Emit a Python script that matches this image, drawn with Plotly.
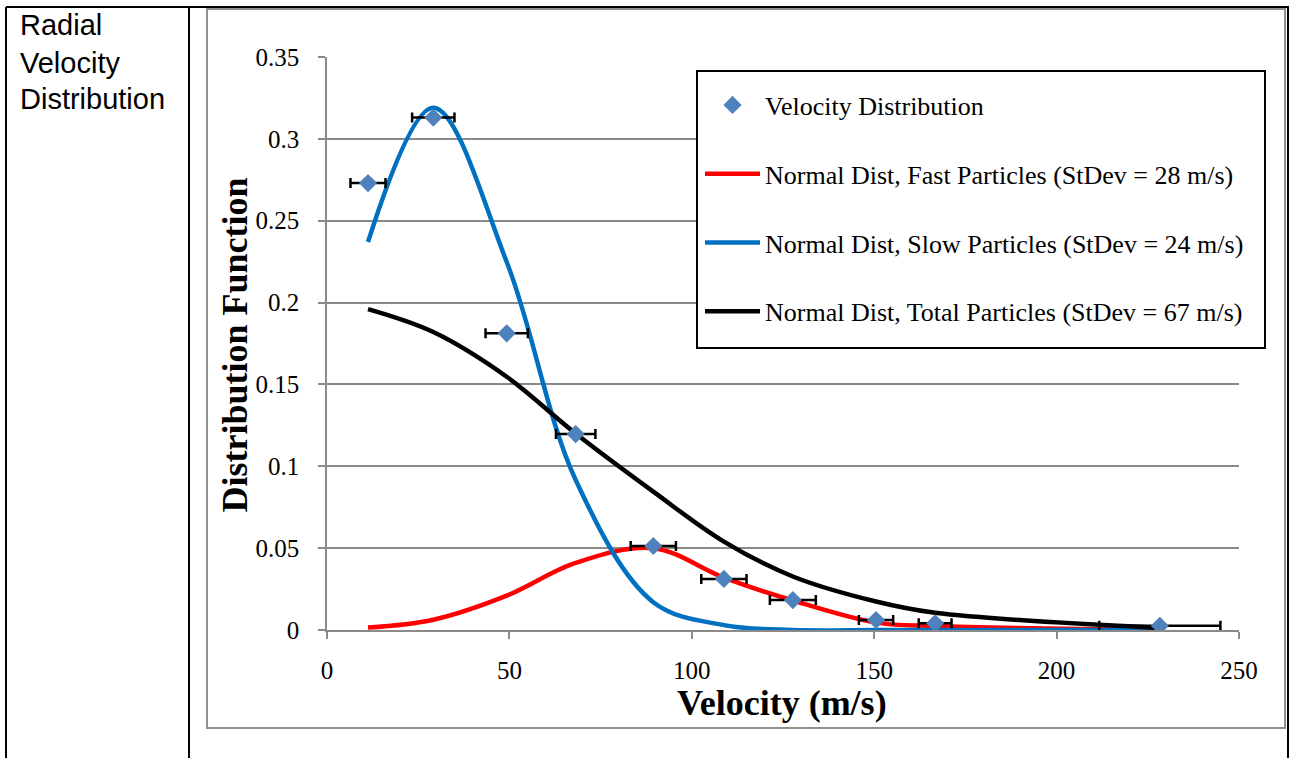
import plotly.graph_objects as go

# Measured radial velocity distribution
velocity = [11.24, 29.14, 49.26, 68.17, 89.45, 108.8, 127.7, 150.5, 166.7, 228.3]
distribution = [0.273, 0.313, 0.1812, 0.1197, 0.0513, 0.0312, 0.0183, 0.0061, 0.0041, 0.0026]
velocity_err = [4.8, 5.8, 5.8, 5.4, 6.2, 6.2, 6.3, 4.7, 4.5, 16.6]

# Fitted normal distributions evaluated at the same velocities
fast_fit = [0.0015, 0.0063, 0.021, 0.041, 0.050, 0.032, 0.018, 0.0045, 0.0024, 0.0002]
slow_fit = [0.237, 0.319, 0.2248, 0.0916, 0.017, 0.003, 0.0, 0.0, 0.0, 0.0]
total_fit = [0.196, 0.182, 0.1547, 0.120, 0.0845, 0.054, 0.0327, 0.0174, 0.0105, 0.0012]

y_tickvals = [0, 0.05, 0.1, 0.15, 0.2, 0.25, 0.3, 0.35]
y_ticktext = ["0", "0.05", "0.1", "0.15", "0.2", "0.25", "0.3", "0.35"]
x_tickvals = [0, 50, 100, 150, 200, 250]
x_ticktext = ["0", "50", "100", "150", "200", "250"]

SERIF = "Liberation Serif"
SANS = "Liberation Sans"
GRID = "#8a8a8a"

# Page geometry (pixels) used to place frame elements in paper coordinates
W, H = 1296, 758
ML, MR, MT, MB = 327, 57, 57, 128
PW, PH = W - ML - MR, H - MT - MB


def px(xp):
    return (xp - ML) / PW


def py(yp):
    return (H - MB - yp) / PH


fig = go.Figure()

fig.add_trace(go.Scatter(
    x=velocity, y=fast_fit, mode="lines", line_shape="spline",
    line=dict(color="#ff0000", width=4.5),
    name="Normal Dist, Fast Particles (StDev = 28 m/s)",
    legendgroup="fast", legendrank=2,
))
fig.add_trace(go.Scatter(
    x=velocity, y=slow_fit, mode="lines", line_shape="spline",
    line=dict(color="#0070c0", width=4.5),
    name="Normal Dist, Slow Particles (StDev = 24 m/s)",
    legendgroup="slow", legendrank=3,
))
fig.add_trace(go.Scatter(
    x=velocity, y=total_fit, mode="lines", line_shape="spline",
    line=dict(color="#000000", width=4.5),
    name="Normal Dist, Total Particles (StDev = 67 m/s)",
    legendgroup="total", legendrank=4,
))
fig.add_trace(go.Scatter(
    x=velocity, y=distribution, mode="markers",
    marker=dict(symbol="diamond", size=14, color="#4f81bd", line=dict(width=0)),
    error_x=dict(type="data", array=velocity_err, visible=True,
                 color="#000000", thickness=2.5, width=5),
    name="Velocity Distribution",
    legendgroup="meas", legendrank=1,
))

shapes = [
    # outer table cell borders
    dict(type="line", xref="paper", yref="paper", x0=px(6), x1=px(6), y0=py(7), y1=py(770),
         line=dict(color="black", width=2)),
    dict(type="line", xref="paper", yref="paper", x0=px(189), x1=px(189), y0=py(7), y1=py(770),
         line=dict(color="black", width=2)),
    dict(type="line", xref="paper", yref="paper", x0=px(1288), x1=px(1288), y0=py(7), y1=py(770),
         line=dict(color="black", width=2)),
    dict(type="line", xref="paper", yref="paper", x0=px(6), x1=px(1289), y0=py(7), y1=py(7),
         line=dict(color="black", width=2)),
    # chart area frame
    dict(type="rect", xref="paper", yref="paper", x0=px(207), x1=px(1285), y0=py(728), y1=py(9),
         line=dict(color="#8f8f8f", width=2), layer="below"),
    # legend box
    dict(type="rect", xref="paper", yref="paper", x0=px(697), x1=px(1265), y0=py(348), y1=py(71),
         line=dict(color="black", width=2), fillcolor="white", layer="above"),
]

annotations = [
    dict(text="Radial", x=px(18), y=py(25.5), xanchor="left", yanchor="middle"),
    dict(text="Velocity", x=px(18), y=py(62.5), xanchor="left", yanchor="middle"),
    dict(text="Distribution", x=px(18), y=py(99.5), xanchor="left", yanchor="middle"),
]
annotations = [dict(a, xref="paper", yref="paper", showarrow=False,
                    font=dict(family=SANS, size=29, color="black")) for a in annotations]
annotations += [
    dict(text="<b>Velocity (m/s)</b>", x=px(782), y=py(703), xref="paper", yref="paper",
         xanchor="center", yanchor="middle", showarrow=False,
         font=dict(family=SERIF, size=36, color="black")),
    dict(text="<b>Distribution Function</b>", x=px(234.5), y=py(345), xref="paper", yref="paper",
         xanchor="center", yanchor="middle", showarrow=False, textangle=-90,
         font=dict(family=SERIF, size=36, color="black")),
]

fig.update_layout(
    width=W, height=H,
    margin=dict(l=ML, r=MR, t=MT, b=MB, autoexpand=False),
    paper_bgcolor="white", plot_bgcolor="white",
    font=dict(family=SERIF, color="black"),
    shapes=shapes,
    annotations=annotations,
    showlegend=True,
    legend=dict(
        x=px(700), y=py(81.5), xanchor="left", yanchor="top",
        bgcolor="rgba(0,0,0,0)", borderwidth=0,
        font=dict(family=SERIF, size=26, color="black"),
        tracegroupgap=32, itemwidth=55,
    ),
)

fig.update_xaxes(
    range=[0, 250], tickvals=x_tickvals, ticktext=x_ticktext,
    showgrid=False, zeroline=False,
    showline=True, linecolor=GRID, linewidth=1.5,
    ticks="outside", ticklen=7, tickcolor=GRID, tickwidth=1.5,
    tickfont=dict(family=SERIF, size=25, color="black"),
    ticklabelstandoff=10,
)
fig.update_yaxes(
    range=[0, 0.35], tickvals=y_tickvals, ticktext=y_ticktext,
    showgrid=True, gridcolor=GRID, gridwidth=1.5, zeroline=False,
    showline=True, linecolor=GRID, linewidth=1.5,
    ticks="outside", ticklen=7, tickcolor=GRID, tickwidth=1.5,
    tickfont=dict(family=SERIF, size=25, color="black"),
    ticklabelstandoff=14,
)

fig.write_html("out.html")
